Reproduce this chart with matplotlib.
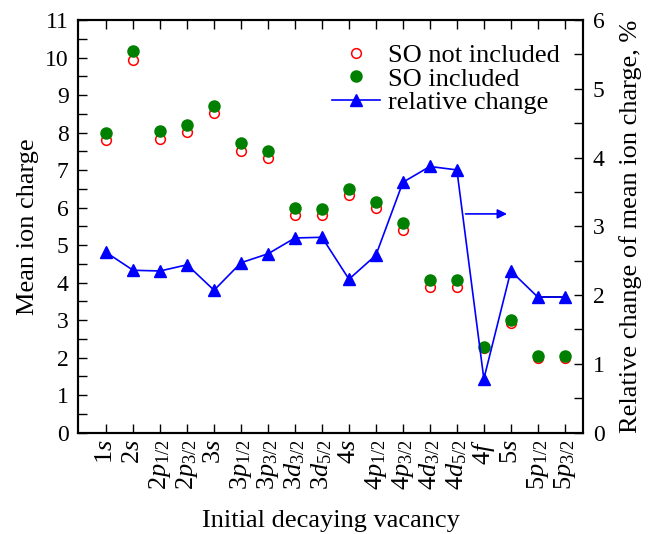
import matplotlib
matplotlib.use('Agg')
import matplotlib.pyplot as plt
from matplotlib.ticker import MultipleLocator
import numpy as np

plt.rcParams['font.family'] = ['Liberation Serif', 'DejaVu Serif']
plt.rcParams['mathtext.fontset'] = 'custom'
plt.rcParams['mathtext.rm'] = 'Liberation Serif'
plt.rcParams['mathtext.it'] = 'Liberation Serif:italic'

vacancies = [r'$1s$', r'$2s$', r'$2p_{1/2}$', r'$2p_{3/2}$', r'$3s$', r'$3p_{1/2}$',
             r'$3p_{3/2}$', r'$3d_{3/2}$', r'$3d_{5/2}$', r'$4s$', r'$4p_{1/2}$',
             r'$4p_{3/2}$', r'$4d_{3/2}$', r'$4d_{5/2}$', r'$4f$', r'$5s$',
             r'$5p_{1/2}$', r'$5p_{3/2}$']
so_not_included = [7.79, 9.94, 7.84, 8.01, 8.52, 7.52, 7.31, 5.81, 5.79, 6.34,
                   5.99, 5.39, 3.89, 3.89, 2.25, 2.91, 1.99, 1.99]
so_included = [8.00, 10.18, 8.03, 8.20, 8.71, 7.71, 7.51, 5.99, 5.96, 6.50,
               6.15, 5.58, 4.06, 4.06, 2.27, 3.00, 2.04, 2.04]
rel_change = [2.62, 2.36, 2.35, 2.44, 2.07, 2.47, 2.60, 2.83, 2.84, 2.23,
              2.58, 3.64, 3.87, 3.82, 0.78, 2.35, 1.97, 1.97]

x = np.arange(1, len(vacancies) + 1)

fig = plt.figure(figsize=(6.53, 5.34), dpi=100)
ax = fig.add_axes([0.12, 0.19, 0.773, 0.7725])
ax2 = ax.twinx()

h1, = ax.plot(x, so_not_included, 'o', mfc='white', mec='red', mew=1.1, ms=7,
              label='SO not included', zorder=2)
h2, = ax.plot(x, so_included, 'o', color='green', ms=8, label='SO included', zorder=3)
h3, = ax2.plot(x, rel_change, '-^', color='blue', lw=1.2, ms=9, label='relative change')
# last segment is drawn black in the original
ax2.plot(x[-2:], rel_change[-2:], '-', color='black', lw=1.2, zorder=1.5)
ax2.annotate('', xy=(15.96, 3.18), xytext=(14.22, 3.18),
             arrowprops=dict(arrowstyle='-|>', color='blue', lw=1.2, mutation_scale=14))

ax.set_xlim(-0.03, 18.68)
ax.set_ylim(0, 11)
ax2.set_ylim(0, 6)
ax.set_xticks(x)
ax.set_xticklabels(vacancies, rotation=90)
ax.yaxis.set_major_locator(MultipleLocator(1))
ax.yaxis.set_minor_locator(MultipleLocator(0.5))
ax2.yaxis.set_major_locator(MultipleLocator(1))
ax2.yaxis.set_minor_locator(MultipleLocator(0.5))

ax.tick_params(axis='x', which='both', direction='in', top=True, length=6.5,
               width=1, labelsize=19, pad=5)
ax.tick_params(axis='y', which='both', direction='in', length=6.5, width=1,
               labelsize=17, pad=7)
ax2.tick_params(axis='y', which='both', direction='in', length=6.5, width=1,
                labelsize=17, pad=7)
for a in (ax, ax2):
    for s in a.spines.values():
        s.set_linewidth(1.5)

ax.set_xlabel('Initial decaying vacancy', fontsize=19, labelpad=14)
ax.set_ylabel('Mean ion charge', fontsize=19, labelpad=4)
ax2.set_ylabel('Relative change of mean ion charge, %', fontsize=19, labelpad=10)

ax2.legend(handles=[h1, h2, h3], loc='upper right', frameon=False, fontsize=19,
           handlelength=1.8, handletextpad=0.3, labelspacing=0.0,
           borderaxespad=0.7, borderpad=0.2)

fig.savefig('out.png', dpi=100)
